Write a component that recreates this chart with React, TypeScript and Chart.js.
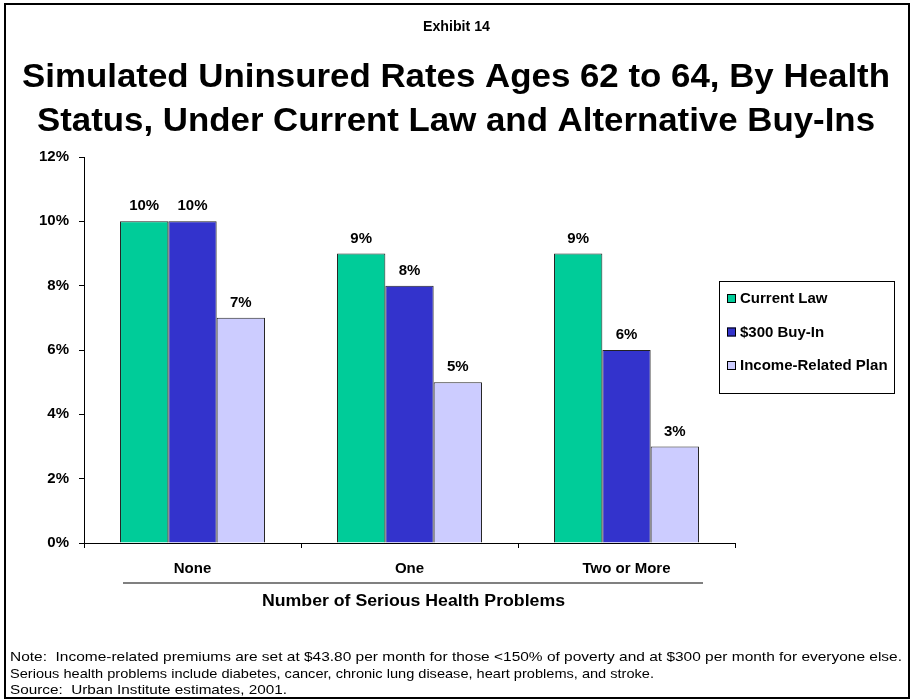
import React, { useEffect, useRef } from 'react';
import { Chart, registerables } from 'chart.js';
Chart.register(...registerables);

const categories = ['None', 'One', 'Two or More'];
const seriesNames = ['Current Law', '$300 Buy-In', 'Income-Related Plan'];
const currentLaw = [10, 9, 9];
const buyIn300 = [10, 8, 6];
const incomeRelated = [7, 5, 3];
const seriesColors = ['#00CC99', '#3333CC', '#CCCCFF'];
const yMin = 0;
const yMax = 12;
const yStep = 2;
const exhibitLabel = 'Exhibit 14';
const titleLines = [
  'Simulated Uninsured Rates Ages 62 to 64, By Health',
  'Status, Under Current Law and Alternative Buy-Ins',
];
const xAxisTitle = 'Number of Serious Health Problems';
const noteLines = [
  'Note:  Income-related premiums are set at $43.80 per month for those <150% of poverty and at $300 per month for everyone else.',
  'Serious health problems include diabetes, cancer, chronic lung disease, heart problems, and stroke.',
  'Source:  Urban Institute estimates, 2001.',
];

const FAMILY = '"Liberation Sans", Arial, Helvetica, sans-serif';

function drawFitted(ctx: CanvasRenderingContext2D, text: string, left: number, y: number, width: number, font: string) {
  ctx.save();
  ctx.font = font;
  const w = ctx.measureText(text).width;
  const sx = width / w;
  ctx.translate(left, y);
  ctx.scale(sx, 1);
  ctx.textAlign = 'left';
  ctx.textBaseline = 'middle';
  ctx.fillStyle = '#000';
  ctx.fillText(text, 0, 0);
  ctx.restore();
}

const decorPlugin = {
  id: 'decor',
  beforeDraw(chart: any) {
    const ctx = chart.ctx as CanvasRenderingContext2D;
    ctx.save();
    ctx.fillStyle = '#fff';
    ctx.fillRect(0, 0, chart.width, chart.height);
    ctx.strokeStyle = '#000';
    ctx.lineWidth = 2;
    ctx.strokeRect(5, 4, 904, 694);
    ctx.restore();
  },
  afterDatasetsDraw(chart: any) {
    const ctx = chart.ctx as CanvasRenderingContext2D;
    ctx.save();
    ctx.font = `bold 15px ${FAMILY}`;
    ctx.fillStyle = '#000';
    ctx.textAlign = 'center';
    ctx.textBaseline = 'middle';
    chart.data.datasets.forEach((ds: any, i: number) => {
      const meta = chart.getDatasetMeta(i);
      meta.data.forEach((el: any, j: number) => {
        ctx.fillText(`${ds.data[j]}%`, el.x, el.y - 15);
      });
    });
    ctx.restore();
  },
  afterDraw(chart: any) {
    const ctx = chart.ctx as CanvasRenderingContext2D;
    ctx.save();
    // header
    drawFitted(ctx, exhibitLabel, 423, 27, 67, `bold 14px ${FAMILY}`);
    drawFitted(ctx, titleLines[0], 22, 78, 868, `bold 34px ${FAMILY}`);
    drawFitted(ctx, titleLines[1], 37, 122, 838, `bold 34px ${FAMILY}`);

    // separator under category labels
    ctx.strokeStyle = '#808080';
    ctx.lineWidth = 2;
    ctx.beginPath();
    ctx.moveTo(123, 583);
    ctx.lineTo(703, 583);
    ctx.stroke();

    // x axis title
    drawFitted(ctx, xAxisTitle, 262, 602, 303, `bold 16px ${FAMILY}`);

    // legend
    const lx = 719, ly = 281, lw = 175, lh = 112;
    ctx.strokeStyle = '#000';
    ctx.lineWidth = 1;
    ctx.strokeRect(lx + 0.5, ly + 0.5, lw, lh);
    ctx.font = `bold 15px ${FAMILY}`;
    ctx.textAlign = 'left';
    ctx.textBaseline = 'middle';
    chart.data.datasets.forEach((ds: any, i: number) => {
      const cy = 298 + i * 33.5;
      ctx.fillStyle = ds.backgroundColor;
      ctx.fillRect(727, cy - 4, 9, 9);
      ctx.strokeStyle = '#000';
      ctx.strokeRect(727.5, cy - 3.5, 8, 8);
      ctx.fillStyle = '#000';
      ctx.fillText(ds.label, 740, cy + 1);
    });

    // notes
    drawFitted(ctx, noteLines[0], 10, 657, 892, `13px ${FAMILY}`);
    drawFitted(ctx, noteLines[1], 10, 674, 644, `13px ${FAMILY}`);
    drawFitted(ctx, noteLines[2], 10, 690, 277, `13px ${FAMILY}`);
    ctx.restore();
  },
};

export default function App() {
  const ref = useRef<HTMLCanvasElement | null>(null);
  useEffect(() => {
    document.body.style.margin = '0';
    const canvas = ref.current;
    if (!canvas) return;
    const values = [currentLaw, buyIn300, incomeRelated];
    const chart = new Chart(canvas, {
      type: 'bar',
      data: {
        labels: categories,
        datasets: values.map((v, i) => ({
          label: seriesNames[i],
          data: v,
          backgroundColor: seriesColors[i],
          borderColor: '#222',
          borderWidth: 1,
          categoryPercentage: 0.668,
          barPercentage: 1.0,
        })),
      },
      options: {
        responsive: false,
        animation: false,
        devicePixelRatio: 1,
        layout: { padding: { top: 157, right: 177, left: 0, bottom: 0 } },
        plugins: {
          legend: { display: false },
          title: { display: false },
          tooltip: { enabled: false },
        },
        scales: {
          x: {
            grid: { drawOnChartArea: false, drawTicks: true, tickLength: 5, color: '#000', offset: true },
            border: { display: true, color: '#000', width: 1 },
            ticks: { color: '#000', font: { family: FAMILY, size: 15, weight: 'bold' }, padding: 12 },
            afterFit: (s: any) => { s.height = 157; },
          },
          y: {
            min: yMin,
            max: yMax,
            grid: { drawOnChartArea: false, drawTicks: true, tickLength: 5, color: '#000' },
            border: { display: true, color: '#000', width: 1 },
            ticks: {
              stepSize: yStep,
              color: '#000',
              font: { family: FAMILY, size: 15, weight: 'bold' },
              padding: 10,
              callback: (v: any) => `${v}%`,
            },
            afterFit: (s: any) => { s.width = 84; },
          },
        },
      } as any,
      plugins: [decorPlugin],
    });
    return () => chart.destroy();
  }, []);
  return (
    <div style={{ width: 912, height: 700, position: 'relative', background: '#fff' }}>
      <canvas ref={ref} width={912} height={700} style={{ display: 'block', width: 912, height: 700 }} />
    </div>
  );
}
